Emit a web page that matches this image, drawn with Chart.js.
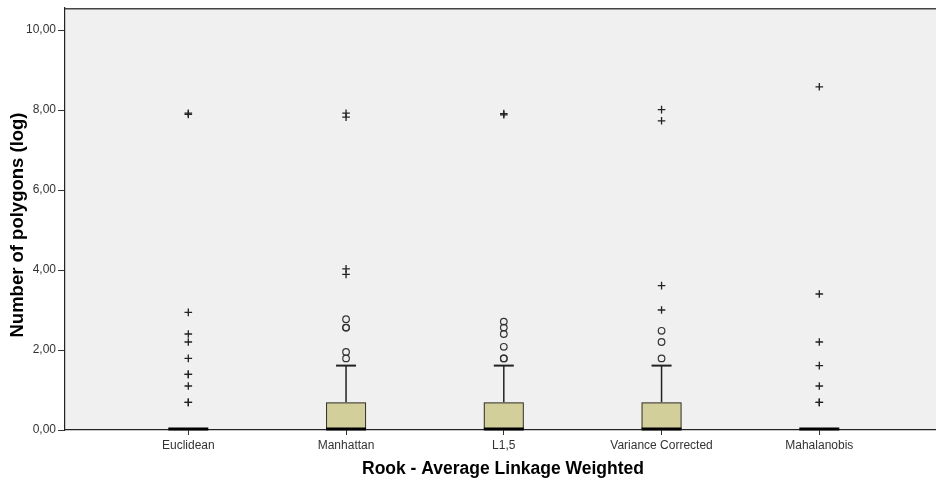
<!DOCTYPE html>
<html>
<head>
<meta charset="utf-8">
<script src="https://cdn.jsdelivr.net/npm/chart.js@4.4.1/dist/chart.umd.min.js"></script>
<style>
  html, body { margin: 0; padding: 0; background: #ffffff; }
  #wrap { width: 936px; height: 483px; position: relative; }
</style>
</head>
<body>
<div id="wrap"><canvas id="c" width="936" height="483"></canvas></div>
<script>
// ---- data ----
const categories = ['Euclidean', 'Manhattan', 'L1,5', 'Variance Corrected', 'Mahalanobis'];
const q1Values = [0, 0, 0, 0, 0];
const medianValues = [0, 0, 0, 0, 0];
const q3Values = [0, 0.69, 0.69, 0.69, 0];
const whiskerLowValues = [0, 0, 0, 0, 0];
const whiskerHighValues = [0, 1.61, 1.61, 1.61, 0];
const outlierValues = [
  [],
  [1.79, 1.95, 2.56, 2.56, 2.77],
  [1.79, 1.79, 2.08, 2.40, 2.56, 2.71],
  [1.79, 2.20, 2.48],
  []
];
const extremeValues = [
  [0.69, 0.69, 1.10, 1.39, 1.39, 1.79, 2.20, 2.40, 2.94, 7.89, 7.92],
  [3.89, 4.03, 7.82, 7.92],
  [7.88, 7.91],
  [3.00, 3.61, 7.73, 8.01],
  [0.69, 0.69, 1.10, 1.61, 2.20, 3.40, 8.58]
];
const yTicks = [0, 2, 4, 6, 8, 10];
const xTitle = 'Rook - Average Linkage Weighted';
const yTitle = 'Number of polygons (log)';

// ---- build datasets ----
const outlierPoints = [];
outlierValues.forEach((arr, i) => arr.forEach(v => outlierPoints.push({x: i, y: v})));
const extremePoints = [];
extremeValues.forEach((arr, i) => arr.forEach(v => extremePoints.push({x: i, y: v})));

const boxPlugin = {
  id: 'boxes',
  beforeDraw(chart) {
    const {ctx, chartArea: a} = chart;
    ctx.save();
    ctx.fillStyle = '#f0f0f0';
    ctx.fillRect(a.left, a.top, a.right - a.left, a.bottom - a.top);
    ctx.restore();
  },
  beforeDatasetsDraw(chart) {
    const {ctx, chartArea: a} = chart;
    const xs = chart.scales.x, ys = chart.scales.y;
    const boxW = 40, capW = 20;
    ctx.save();
    categories.forEach((c, i) => {
      const cx = xs.getPixelForValue(i);
      const yq1 = ys.getPixelForValue(q1Values[i]);
      const yq3 = ys.getPixelForValue(q3Values[i]);
      const ymed = ys.getPixelForValue(medianValues[i]);
      const ywh = ys.getPixelForValue(whiskerHighValues[i]);
      const ywl = ys.getPixelForValue(whiskerLowValues[i]);
      ctx.strokeStyle = '#222';
      if (whiskerHighValues[i] > q3Values[i]) {
        ctx.lineWidth = 1.5;
        ctx.beginPath(); ctx.moveTo(cx, yq3); ctx.lineTo(cx, ywh); ctx.stroke();
        ctx.lineWidth = 2;
        ctx.beginPath(); ctx.moveTo(cx - capW / 2, ywh); ctx.lineTo(cx + capW / 2, ywh); ctx.stroke();
      }
      if (whiskerLowValues[i] < q1Values[i]) {
        ctx.lineWidth = 1.5;
        ctx.beginPath(); ctx.moveTo(cx, yq1); ctx.lineTo(cx, ywl); ctx.stroke();
        ctx.lineWidth = 2;
        ctx.beginPath(); ctx.moveTo(cx - capW / 2, ywl); ctx.lineTo(cx + capW / 2, ywl); ctx.stroke();
      }
      if (q3Values[i] > q1Values[i]) {
        ctx.fillStyle = '#d3cf9a';
        ctx.fillRect(cx - boxW / 2, yq3, boxW, yq1 - yq3);
        ctx.lineWidth = 1;
        ctx.strokeStyle = '#333';
        ctx.strokeRect(cx - boxW / 2 + 0.5, yq3 + 0.5, boxW - 1, yq1 - yq3 - 1);
      }
      ctx.strokeStyle = '#000';
      ctx.lineWidth = 3;
      ctx.beginPath(); ctx.moveTo(cx - boxW / 2, ymed - 1); ctx.lineTo(cx + boxW / 2, ymed - 1); ctx.stroke();
    });
    ctx.strokeStyle = '#444';
    ctx.lineWidth = 1.6;
    ctx.beginPath(); ctx.moveTo(a.left, a.top + 0.8); ctx.lineTo(a.right, a.top + 0.8); ctx.stroke();
    ctx.restore();
  },
  afterDraw(chart) {
    const ctx = chart.ctx;
    ctx.save();
    ctx.fillStyle = '#000';
    ctx.textAlign = 'center';
    ctx.textBaseline = 'alphabetic';
    ctx.font = 'bold 17.5px Arial, "Liberation Sans", sans-serif';
    ctx.fillText(xTitle, 503, 473.5);
    ctx.translate(23, 225);
    ctx.rotate(-Math.PI / 2);
    ctx.font = 'bold 18.5px Arial, "Liberation Sans", sans-serif';
    ctx.fillText(yTitle, 0, 0);
    ctx.restore();
  }
};

const pxPerCat = 157.75;
const firstCatPx = 188.3;
const areaLeft = 65, areaRight = 936;
const xMin = -(firstCatPx - areaLeft) / pxPerCat;
const xMax = xMin + (areaRight - areaLeft) / pxPerCat;

new Chart(document.getElementById('c'), {
  type: 'scatter',
  data: {
    datasets: [
      {
        label: 'outliers',
        data: outlierPoints,
        pointStyle: 'circle',
        radius: 3.3,
        borderColor: '#333',
        backgroundColor: 'rgba(0,0,0,0)',
        borderWidth: 1.2
      },
      {
        label: 'extremes',
        data: extremePoints,
        pointStyle: 'cross',
        radius: 3.8,
        borderColor: '#222',
        backgroundColor: '#222',
        borderWidth: 1.3
      }
    ]
  },
  options: {
    responsive: false,
    animation: false,
    layout: { autoPadding: false, padding: { top: 8, right: 0, left: 0, bottom: 0 } },
    plugins: { legend: { display: false }, tooltip: { enabled: false } },
    scales: {
      x: {
        type: 'linear',
        min: xMin,
        max: xMax,
        afterBuildTicks(scale) { scale.ticks = categories.map((c, i) => ({value: i})); },
        afterFit(scale) { scale.height = 53; scale.paddingLeft = 0; scale.paddingRight = 0; },
        ticks: {
          autoSkip: false,
          maxRotation: 0,
          padding: 3,
          color: '#333',
          font: { family: 'Arial, "Liberation Sans", sans-serif', size: 12 },
          callback: (v) => categories[v]
        },
        grid: { display: true, drawOnChartArea: false, drawTicks: true, tickLength: 5, color: '#333', lineWidth: 1 },
        border: { display: true, color: '#222', width: 1.2 },
        title: { display: false }
      },
      y: {
        type: 'linear',
        min: 0,
        max: 10.55,
        afterBuildTicks(scale) { scale.ticks = yTicks.map(v => ({value: v})); },
        afterFit(scale) { scale.width = 65; scale.paddingTop = 0; scale.paddingBottom = 0; },
        ticks: {
          padding: 2,
          color: '#333',
          font: { family: 'Arial, "Liberation Sans", sans-serif', size: 12 },
          callback: (v) => v.toFixed(2).replace('.', ',')
        },
        grid: { display: true, drawOnChartArea: false, drawTicks: true, tickLength: 7, color: '#333', lineWidth: 1 },
        border: { display: true, color: '#222', width: 1.2 },
        title: { display: false }
      }
    }
  },
  plugins: [boxPlugin]
});
</script>
</body>
</html>
